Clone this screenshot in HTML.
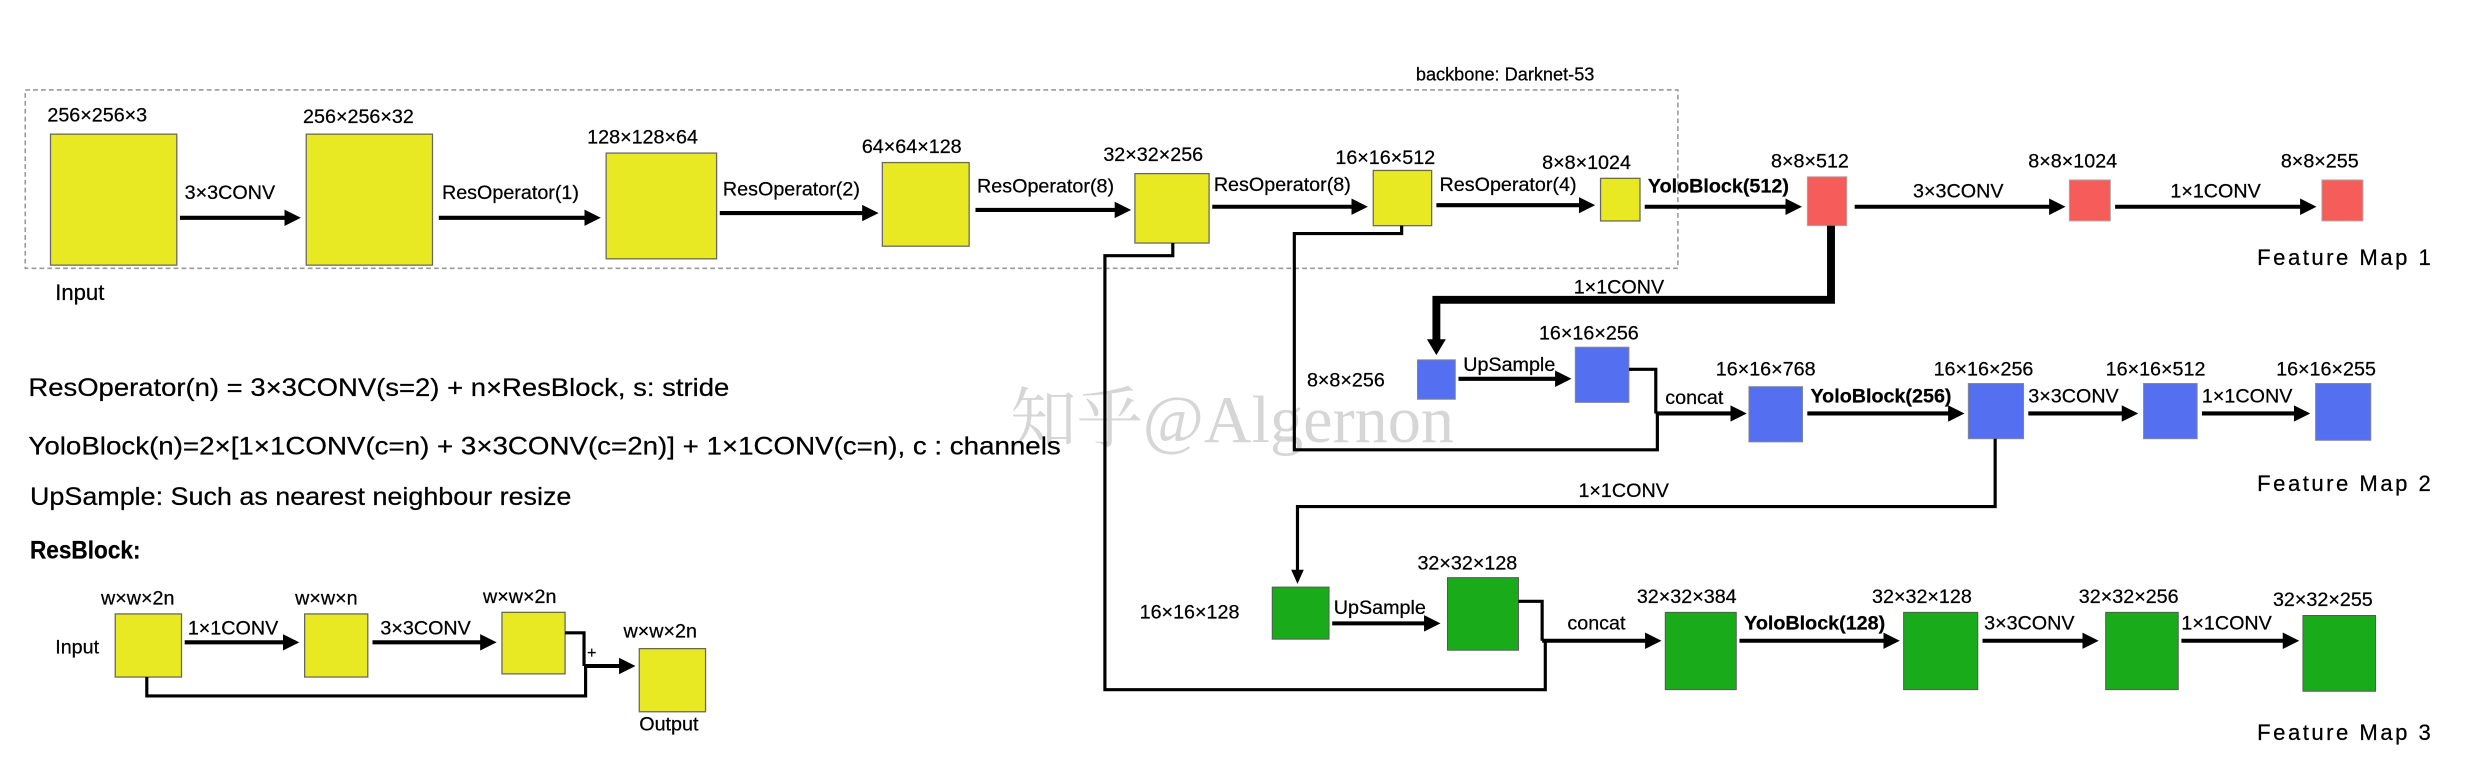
<!DOCTYPE html>
<html><head><meta charset="utf-8"><style>
html,body{margin:0;padding:0;background:#fff;width:2475px;height:767px;overflow:hidden}
svg{display:block}
text{font-family:"Liberation Sans","Noto Sans CJK SC",sans-serif;font-size:12.5px;fill:#000;stroke:#000;stroke-width:0.15}
.y{fill:#e8e823;stroke:#666;stroke-width:0.8}
.r{fill:#f65d5a;stroke:#aaa;stroke-width:0.6}
.b{fill:#5470f0;stroke:#888;stroke-width:0.6}
.g{fill:#1aab1a;stroke:#555;stroke-width:0.6}
.a{stroke:#000;stroke-width:2.6;fill:none;marker-end:url(#ah)}
.l{stroke:#000;stroke-width:2;fill:none}
.bd{font-weight:bold}
</style></head><body>
<svg width="2475" height="767" viewBox="0 0 1568 486" preserveAspectRatio="none">
<defs><marker id="ah" markerWidth="4" markerHeight="4" refX="3" refY="2" orient="auto"><path d="M0,0L4,2L0,4z" fill="#000"/></marker></defs>
<text x="640" y="280" style="font-family:'Liberation Serif','Noto Serif CJK SC',serif;font-size:42px;fill:#d6d6d6;stroke:none">知乎@Algernon</text>
<rect x="16" y="57" width="1047" height="113" fill="none" stroke="#999" stroke-width="1" stroke-dasharray="3,2"/>
<text x="897" y="51" style="font-size:11.5px">backbone: Darknet-53</text>
<!-- top row -->
<text x="30" y="77">256×256×3</text><rect class="y" x="32" y="85" width="80" height="83"/>
<text x="35" y="190" style="font-size:14px">Input</text>
<path class="a" d="M114 138H188"/><text x="117" y="126">3×3CONV</text>
<text x="192" y="78">256×256×32</text><rect class="y" x="194" y="85" width="80" height="83"/>
<path class="a" d="M278 138H378"/><text x="280" y="126">ResOperator(1)</text>
<text x="372" y="91">128×128×64</text><rect class="y" x="384" y="97" width="70" height="67"/>
<path class="a" d="M456 135H554"/><text x="458" y="124">ResOperator(2)</text>
<text x="546" y="97">64×64×128</text><rect class="y" x="559" y="103" width="55" height="53"/>
<path class="a" d="M618 133H714"/><text x="619" y="122">ResOperator(8)</text>
<text x="699" y="102">32×32×256</text><rect class="y" x="719" y="110" width="47" height="44"/>
<path class="a" d="M768 131H864"/><text x="769" y="121">ResOperator(8)</text>
<text x="846" y="104">16×16×512</text><rect class="y" x="870" y="108" width="37" height="35"/>
<path class="a" d="M910 130H1008"/><text x="912" y="121">ResOperator(4)</text>
<text x="977" y="107">8×8×1024</text><rect class="y" x="1014" y="113" width="25" height="27"/>
<path class="a" d="M1042 131H1139"/><text x="1044" y="122" class="bd">YoloBlock(512)</text>
<text x="1122" y="106">8×8×512</text><rect class="r" x="1145" y="112" width="25" height="31"/>
<path class="a" d="M1175 131H1306"/><text x="1212" y="125">3×3CONV</text>
<text x="1285" y="106">8×8×1024</text><rect class="r" x="1311" y="114" width="26" height="26"/>
<path class="a" d="M1340 131H1465"/><text x="1375" y="125">1×1CONV</text>
<text x="1445" y="106">8×8×255</text><rect class="r" x="1471" y="114" width="26" height="26"/>
<text x="1430" y="168" style="font-size:14px" textLength="110">Feature Map 1</text>
<!-- skip lines -->
<path class="l" d="M743 154V162H700V437H979V406"/>
<path class="l" d="M888 143V148H820V285H1050V262"/>
<path style="stroke:#000;stroke-width:5;fill:none" d="M1160 143V190H910V216"/>
<path d="M904 215L910 225L916 215z" fill="#000"/>
<text x="997" y="186">1×1CONV</text>
<!-- blue row -->
<text x="828" y="245">8×8×256</text><rect class="b" x="898" y="228" width="24" height="25"/>
<path class="a" d="M924 240H993"/><text x="927" y="235">UpSample</text>
<text x="975" y="215">16×16×256</text><rect class="b" x="998" y="220" width="34" height="35"/>
<path class="l" d="M1032 234H1049V262"/>
<path class="a" d="M1049 262H1104"/><text x="1055" y="256">concat</text>
<text x="1087" y="238">16×16×768</text><rect class="b" x="1108" y="245" width="34" height="35"/>
<path class="a" d="M1145 262H1242"/><text x="1147" y="255" class="bd">YoloBlock(256)</text>
<text x="1225" y="238">16×16×256</text><rect class="b" x="1247" y="243" width="35" height="35"/>
<path class="a" d="M1285 262H1352"/><text x="1285" y="255">3×3CONV</text>
<text x="1334" y="238">16×16×512</text><rect class="b" x="1358" y="243" width="34" height="35"/>
<path class="a" d="M1395 262H1461"/><text x="1395" y="255">1×1CONV</text>
<text x="1442" y="238">16×16×255</text><rect class="b" x="1467" y="243" width="35" height="36"/>
<text x="1430" y="311" style="font-size:14px" textLength="110">Feature Map 2</text>
<path class="l" d="M1264 278V321H822V362"/>
<path d="M818 361L822 370L826 361z" fill="#000"/>
<text x="1000" y="315">1×1CONV</text>
<!-- green row -->
<text x="722" y="392">16×16×128</text><rect class="g" x="806" y="372" width="36" height="33"/>
<path class="a" d="M844 395H910"/><text x="845" y="389">UpSample</text>
<text x="898" y="361">32×32×128</text><rect class="g" x="917" y="366" width="45" height="46"/>
<path class="l" d="M962 381H977V406"/>
<path class="a" d="M977 406H1050"/><text x="993" y="399">concat</text>
<text x="1037" y="382">32×32×384</text><rect class="g" x="1055" y="388" width="45" height="49"/>
<path class="a" d="M1102 406H1201"/><text x="1105" y="399" class="bd">YoloBlock(128)</text>
<text x="1186" y="382">32×32×128</text><rect class="g" x="1206" y="388" width="47" height="49"/>
<path class="a" d="M1256 406H1327"/><text x="1257" y="399">3×3CONV</text>
<text x="1317" y="382">32×32×256</text><rect class="g" x="1334" y="388" width="46" height="49"/>
<path class="a" d="M1382 406H1454"/><text x="1382" y="399">1×1CONV</text>
<text x="1440" y="384">32×32×255</text><rect class="g" x="1459" y="390" width="46" height="48"/>
<text x="1430" y="469" style="font-size:14px" textLength="110">Feature Map 3</text>
<!-- left text -->
<text x="18" y="251" style="font-size:16px" textLength="444" lengthAdjust="spacingAndGlyphs">ResOperator(n) = 3×3CONV(s=2) + n×ResBlock, s: stride</text>
<text x="18" y="288" style="font-size:16px" textLength="654" lengthAdjust="spacingAndGlyphs">YoloBlock(n)=2×[1×1CONV(c=n) + 3×3CONV(c=2n)] + 1×1CONV(c=n), c : channels</text>
<text x="19" y="320" style="font-size:16px" textLength="343" lengthAdjust="spacingAndGlyphs">UpSample: Such as nearest neighbour resize</text>
<text x="19" y="354" style="font-size:16px" class="bd" textLength="70" lengthAdjust="spacingAndGlyphs">ResBlock:</text>
<!-- resblock -->
<text x="64" y="383">w×w×2n</text><rect class="y" x="73" y="389" width="42" height="40"/>
<text x="35" y="414">Input</text>
<path class="a" d="M117 407H187"/><text x="119" y="402">1×1CONV</text>
<text x="187" y="383">w×w×n</text><rect class="y" x="193" y="389" width="40" height="40"/>
<path class="a" d="M236 407H312"/><text x="241" y="402">3×3CONV</text>
<text x="306" y="382">w×w×2n</text><rect class="y" x="318" y="388" width="40" height="39"/>
<text x="395" y="404">w×w×2n</text><rect class="y" x="405" y="411" width="42" height="40"/>
<path class="l" d="M358 401H370V422"/>
<path class="a" d="M370 422H400"/><text x="372" y="417" style="font-size:10px">+</text>
<path class="l" d="M93 429V441H371V422"/>
<text x="405" y="463">Output</text>
</svg>
</body></html>
